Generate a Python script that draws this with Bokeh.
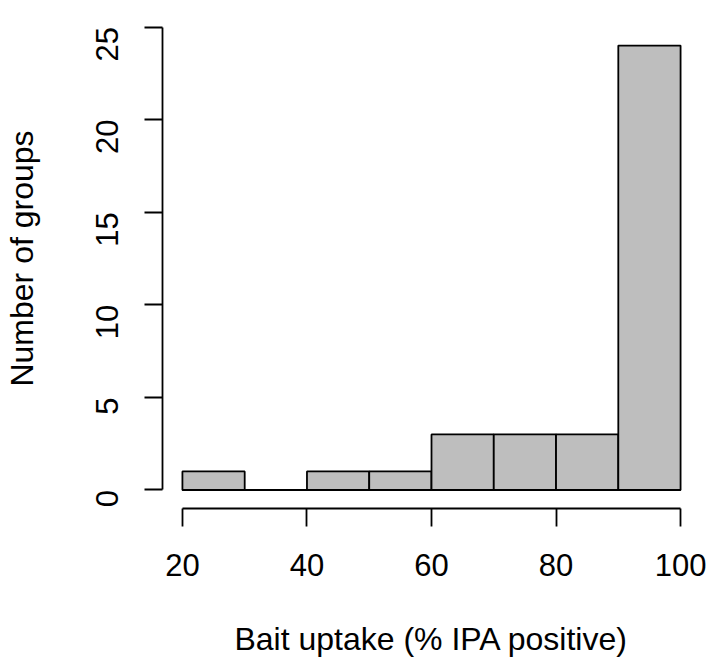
import math
from bokeh.plotting import figure
from bokeh.models import Range1d, FixedTicker
from bokeh.embed import file_html
from bokeh.resources import INLINE

# Histogram data
bin_left = [20, 30, 40, 50, 60, 70, 80, 90]
bin_right = [30, 40, 50, 60, 70, 80, 90, 100]
counts = [1, 0, 1, 1, 3, 3, 3, 24]
x_ticks = [20, 40, 60, 80, 100]
y_ticks = [0, 5, 10, 15, 20, 25]

FONT = "Liberation Sans"
TICK_FS = "31px"
LAB_FS = "32px"

p = figure(width=707, height=659, output_backend="svg", toolbar_location=None,
           x_range=Range1d(16.8, 103.2), y_range=Range1d(-1, 26),
           min_border_left=162, min_border_right=7, min_border_top=8,
           min_border_bottom=151)
p.outline_line_color = None
p.xgrid.visible = False
p.ygrid.visible = False
p.background_fill_color = "white"
p.border_fill_color = "white"

p.quad(left=bin_left, right=bin_right, bottom=0, top=counts,
       fill_color="#BEBEBE", line_color="black", line_width=1.8)
p.segment(x0=bin_left, x1=bin_right, y0=0, y1=0, line_color="black", line_width=1.8)

for ax, ticks, lo, hi in ((p.xaxis[0], x_ticks, 20, 100), (p.yaxis[0], y_ticks, 0, 25)):
    ax.ticker = FixedTicker(ticks=ticks)
    ax.bounds = (lo, hi)
    ax.minor_tick_line_color = None
    ax.major_tick_in = 0
    ax.major_tick_out = 18
    ax.axis_line_width = 1.8
    ax.major_tick_line_width = 1.8
    ax.axis_line_color = "black"
    ax.major_tick_line_color = "black"
    ax.major_label_text_font = FONT
    ax.major_label_text_font_size = TICK_FS
    ax.major_label_text_color = "black"
    ax.axis_label_text_font = FONT
    ax.axis_label_text_font_size = LAB_FS
    ax.axis_label_text_font_style = "normal"
    ax.axis_label_text_color = "black"

p.xaxis.axis_label = "Bait uptake (% IPA positive)"
p.yaxis.axis_label = "Number of groups"
p.yaxis.major_label_orientation = math.pi / 2
p.xaxis.major_label_standoff = 27
p.yaxis.major_label_standoff = 37
p.xaxis.axis_label_standoff = 42
p.yaxis.axis_label_standoff = 43

open("out.html", "w").write(file_html(p, INLINE))
